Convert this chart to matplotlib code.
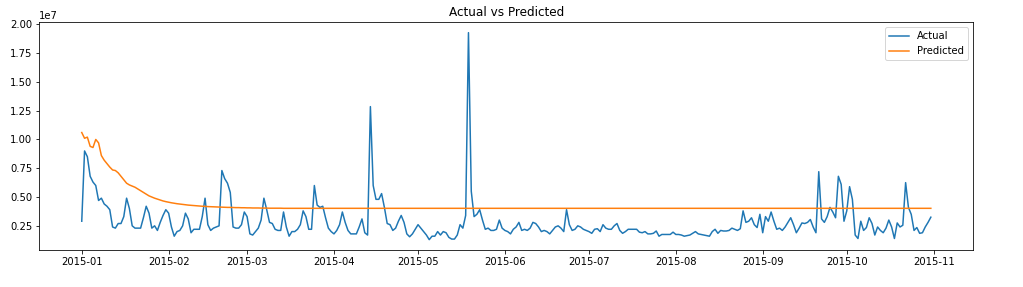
import matplotlib
matplotlib.use("Agg")
import matplotlib.pyplot as plt
import pandas as pd

start_date = "2015-01-01"

# Actual values in millions (daily, 2015-01-01 .. 2015-10-31)
actual_m = [
    2.9, 9.0, 8.5, 6.8, 6.3, 6.0, 4.7, 4.9, 4.4, 4.2,
    3.9, 2.4, 2.3, 2.7, 2.7, 3.3, 4.9, 4.0, 2.5, 2.3,
    2.3, 2.3, 3.2, 4.2, 3.6, 2.3, 2.5, 2.1, 2.8, 3.4,
    3.9, 3.6, 2.4, 1.6, 2.0, 2.1, 2.5, 3.6, 3.1, 1.9,
    2.2, 2.2, 2.2, 3.3, 4.9, 2.6, 2.1, 2.3, 2.4, 2.5,
    7.3, 6.6, 6.2, 5.4, 2.4, 2.3, 2.3, 2.6, 3.7, 3.3,
    1.8, 1.7, 2.0, 2.3, 3.0, 4.9, 3.9, 2.8, 2.7, 2.2,
    2.1, 2.1, 3.7, 2.4, 1.6, 2.0, 2.0, 2.2, 2.6, 3.8,
    3.3, 2.2, 2.2, 6.0, 4.3, 4.1, 4.2, 3.2, 2.3, 2.0,
    1.8, 2.1, 2.6, 3.7, 2.8, 2.1, 1.8, 1.8, 1.8, 2.4,
    3.1, 1.9, 1.7, 12.85, 6.0, 4.8, 4.8, 5.3, 4.1, 2.7,
    2.6, 2.1, 2.3, 2.9, 3.4, 2.8, 1.8, 1.55, 1.8, 2.2,
    2.6, 2.3, 2.0, 1.7, 1.3, 1.6, 1.6, 2.0, 1.7, 2.0,
    1.9, 1.5, 1.35, 1.35, 1.7, 2.6, 2.3, 3.4, 19.27, 5.5,
    3.3, 3.5, 3.9, 3.0, 2.2, 2.3, 2.1, 2.1, 2.2, 3.0,
    2.3, 2.1, 2.0, 1.8, 2.2, 2.4, 2.8, 2.1, 2.2, 2.1,
    2.3, 2.8, 2.7, 2.4, 2.0, 2.1, 2.0, 1.8, 2.1, 2.4,
    2.5, 2.3, 2.0, 3.9, 2.6, 2.1, 2.2, 2.5, 2.4, 2.2,
    2.1, 2.0, 1.85, 2.2, 2.25, 2.0, 2.6, 2.3, 2.2, 2.2,
    2.5, 2.7, 2.1, 1.85, 2.0, 2.2, 2.2, 2.2, 2.2, 1.95,
    1.9, 2.0, 1.8, 1.8, 1.85, 2.05, 1.6, 1.75, 1.75, 1.75,
    1.75, 1.95, 1.75, 1.75, 1.7, 1.6, 1.65, 1.7, 1.85, 2.0,
    1.8, 1.75, 1.7, 1.65, 1.6, 2.0, 2.2, 1.85, 2.1, 2.05,
    2.05, 2.1, 2.3, 2.2, 2.1, 2.25, 3.8, 2.8, 2.9, 3.2,
    2.6, 2.35, 3.5, 1.9, 3.3, 2.9, 3.7, 2.9, 2.2, 2.3,
    2.1, 2.4, 2.8, 3.2, 2.6, 1.9, 2.3, 2.75, 2.7, 2.8,
    3.05, 2.4, 1.9, 7.2, 3.1, 2.8, 3.3, 4.1, 3.7, 3.2,
    6.8, 6.1, 2.9, 3.8, 5.9, 4.8, 1.7, 1.4, 2.9, 2.1,
    2.35, 3.2, 2.7, 1.7, 2.4, 2.1, 1.9, 2.3, 3.0, 2.4,
    1.4, 2.75, 2.4, 2.55, 6.25, 4.1, 3.5, 2.1, 2.35, 1.85,
    1.9, 2.4, 2.8, 3.25,
]

# Predicted values in millions
predicted_m = [
    10.6, 10.1, 10.2, 9.4, 9.3, 10.0, 9.7, 8.6, 8.2, 7.9,
    7.6, 7.35, 7.3, 7.1, 6.8, 6.5, 6.2, 6.05, 5.95, 5.85,
    5.7, 5.55, 5.4, 5.25, 5.1, 5.0, 4.9, 4.82, 4.74, 4.66,
    4.6, 4.55, 4.5, 4.46, 4.42, 4.39, 4.36, 4.33, 4.3, 4.28,
    4.26, 4.24, 4.22, 4.2, 4.19, 4.17, 4.16, 4.15, 4.14, 4.13,
    4.12, 4.11, 4.1, 4.1, 4.09, 4.08, 4.08, 4.07, 4.07, 4.06,
    4.06, 4.05, 4.05, 4.05, 4.04, 4.04, 4.04, 4.03, 4.03, 4.03,
    4.03, 4.03, 4.02, 4.02, 4.02, 4.02, 4.02, 4.02, 4.02, 4.02,
    4.02, 4.02, 4.02, 4.02, 4.02, 4.02, 4.02, 4.02, 4.02, 4.02,
    4.02, 4.02, 4.02, 4.02, 4.02, 4.02, 4.02, 4.02, 4.02, 4.02,
    4.02, 4.02, 4.02, 4.02, 4.02, 4.02, 4.02, 4.02, 4.02, 4.02,
    4.02, 4.02, 4.02, 4.02, 4.02, 4.02, 4.02, 4.02, 4.02, 4.02,
    4.02, 4.02, 4.02, 4.02, 4.02, 4.02, 4.02, 4.02, 4.02, 4.02,
    4.02, 4.02, 4.02, 4.02, 4.02, 4.02, 4.02, 4.02, 4.02, 4.02,
    4.02, 4.02, 4.02, 4.02, 4.02, 4.02, 4.02, 4.02, 4.02, 4.02,
    4.02, 4.02, 4.02, 4.02, 4.02, 4.02, 4.02, 4.02, 4.02, 4.02,
    4.02, 4.02, 4.02, 4.02, 4.02, 4.02, 4.02, 4.02, 4.02, 4.02,
    4.02, 4.02, 4.02, 4.02, 4.02, 4.02, 4.02, 4.02, 4.02, 4.02,
    4.02, 4.02, 4.02, 4.02, 4.02, 4.02, 4.02, 4.02, 4.02, 4.02,
    4.02, 4.02, 4.02, 4.02, 4.02, 4.02, 4.02, 4.02, 4.02, 4.02,
    4.02, 4.02, 4.02, 4.02, 4.02, 4.02, 4.02, 4.02, 4.02, 4.02,
    4.02, 4.02, 4.02, 4.02, 4.02, 4.02, 4.02, 4.02, 4.02, 4.02,
    4.02, 4.02, 4.02, 4.02, 4.02, 4.02, 4.02, 4.02, 4.02, 4.02,
    4.02, 4.02, 4.02, 4.02, 4.02, 4.02, 4.02, 4.02, 4.02, 4.02,
    4.02, 4.02, 4.02, 4.02, 4.02, 4.02, 4.02, 4.02, 4.02, 4.02,
    4.02, 4.02, 4.02, 4.02, 4.02, 4.02, 4.02, 4.02, 4.02, 4.02,
    4.02, 4.02, 4.02, 4.02, 4.02, 4.02, 4.02, 4.02, 4.02, 4.02,
    4.02, 4.02, 4.02, 4.02, 4.02, 4.02, 4.02, 4.02, 4.02, 4.02,
    4.02, 4.02, 4.02, 4.02, 4.02, 4.02, 4.02, 4.02, 4.02, 4.02,
    4.02, 4.02, 4.02, 4.02, 4.02, 4.02, 4.02, 4.02, 4.02, 4.02,
    4.02, 4.02, 4.02, 4.02,
]

series_labels = ["Actual", "Predicted"]
title = "Actual vs Predicted"

dates = pd.date_range(start_date, periods=len(actual_m), freq="D")
actual = [v * 1e6 for v in actual_m]
predicted = [v * 1e6 for v in predicted_m]

W, H = 1023, 287
fig = plt.figure(figsize=(W / 72, H / 72), dpi=72)
ax = fig.add_axes([39.3 / W, 1 - 250 / H, (973.3 - 39.3) / W, (250 - 22.3) / H])
ax.plot(dates, actual, label=series_labels[0])
ax.plot(dates, predicted, label=series_labels[1])
ax.set_title(title)
ax.legend(loc="upper right")
fig.savefig("out.png", dpi=72)
